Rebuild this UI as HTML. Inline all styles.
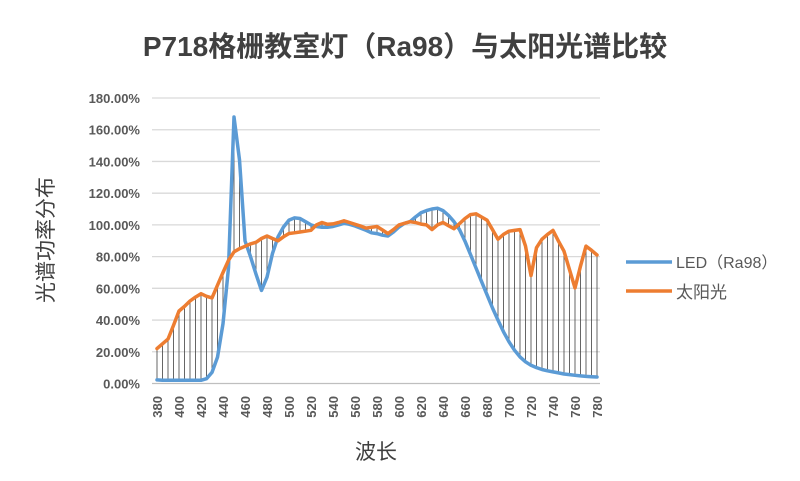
<!DOCTYPE html>
<html><head><meta charset="utf-8"><style>
body{margin:0;background:#fff;}
svg text{font-family:"Liberation Sans","Noto Sans CJK SC",sans-serif;}
</style></head><body>
<svg width="800" height="476" viewBox="0 0 800 476" id="chart">
<text x="405" y="56" text-anchor="middle" font-size="28" font-weight="bold" fill="#404040">P718格栅教室灯（Ra98）与太阳光谱比较</text>
<text transform="translate(53,240) rotate(-90)" text-anchor="middle" font-size="21" fill="#404040">光谱功率分布</text>
<text x="376" y="459" text-anchor="middle" font-size="21" fill="#404040">波长</text>
<g id="grid"></g><g id="drops"></g><g id="lines"></g><g id="ticks"></g>
<g>
<line x1="626" y1="262" x2="672" y2="262" stroke="#5b9bd5" stroke-width="3.5"/>
<text x="676" y="268" font-size="16" fill="#595959">LED（Ra98）</text>
<line x1="626" y1="291" x2="672" y2="291" stroke="#ed7d31" stroke-width="3.5"/>
<text x="676" y="298" font-size="17" fill="#595959">太阳光</text>
</g>
</svg>
<script>
const wavelengths=[];for(let w=380;w<=780;w+=5)wavelengths.push(w);
const ledValues=[2.3,2,2,2,2,2,2,2,2,3,7,16.6,37.7,73,168,141,90,80,69,58.7,67,82,92.4,98.7,103,104.4,104,102,100,99,98.5,98.5,99,100,101,100.4,99.3,98,96.6,95,94.5,93.5,93,95.5,98.7,101,102,105,107.6,109,110,110.5,109,106,102,97,89.7,81.3,72.8,64.4,56,47.6,40,32.6,26.3,21,16.8,13.7,11.5,10,8.8,8,7.3,6.7,6,5.6,5.2,4.8,4.5,4.3,4.1];
const sunValues=[22,25,28,36.6,45.7,48.6,52,54.5,56.6,55,54,62,70,77.7,83,85,86.5,88,89,91.4,93,91.4,90,92.5,94.6,95,95.5,96,96.6,100,101.5,100.4,100.6,101.5,102.6,101.5,100.4,99.3,98,98.5,99,96.8,94.5,97,100,101,102,101.5,100.5,100,97,100,101.5,99.5,97.6,100.8,104,106.5,107,105,103,97,91,94,96,96.5,97,86.6,68,85.6,91,94,96.5,89.7,83.4,71.8,60.2,74,86.6,84,81];
const yTicks=[0,20,40,60,80,100,120,140,160,180];
const xTickLabels=[380,400,420,440,460,480,500,520,540,560,580,600,620,640,660,680,700,720,740,760,780];
const NS="http://www.w3.org/2000/svg";
const xS=w=>157+1.1*(w-380);
const yS=v=>383.5-v*(285.5/180);
function mk(t,a,p){const e=document.createElementNS(NS,t);for(const k in a)e.setAttribute(k,a[k]);p.appendChild(e);return e;}
const grid=document.getElementById('grid'),drops=document.getElementById('drops'),lines=document.getElementById('lines'),ticks=document.getElementById('ticks');
yTicks.forEach(v=>{
 const l=mk('line',{x1:152,x2:600,y1:yS(v),y2:yS(v),stroke:v===0?'#bfbfbf':'#d9d9d9','stroke-width':1.3},grid);
 
 
 const t=mk('text',{x:140,y:yS(v)+5,'text-anchor':'end','font-size':13,'font-weight':'bold',fill:'#595959'},ticks);
 t.textContent=v.toFixed(2)+'%';
 
 
});
xTickLabels.forEach(w=>{
 const t=mk('text',{transform:`translate(${xS(w)+5},396) rotate(-90)`,'text-anchor':'end','font-size':13,'font-weight':'bold',fill:'#595959'},ticks);
 t.textContent=w;
 
 
});
wavelengths.forEach((w,i)=>{
 const l=mk('line',{x1:xS(w),x2:xS(w),y1:yS(ledValues[i]),y2:yS(sunValues[i]),stroke:'#404040','stroke-width':0.8},drops);
 
 
});
function series(vals,color,name){
 const d=vals.map((v,i)=>(i?'L':'M')+xS(wavelengths[i]).toFixed(1)+','+yS(v).toFixed(1)).join('');
 const p=mk('path',{d,fill:'none',stroke:color,'stroke-width':3.5,'stroke-linejoin':'round','stroke-linecap':'round'},lines);
 
 
}
series(ledValues,'#5b9bd5','led-series-line');
series(sunValues,'#ed7d31','sun-series-line');
</script>
</body></html>
